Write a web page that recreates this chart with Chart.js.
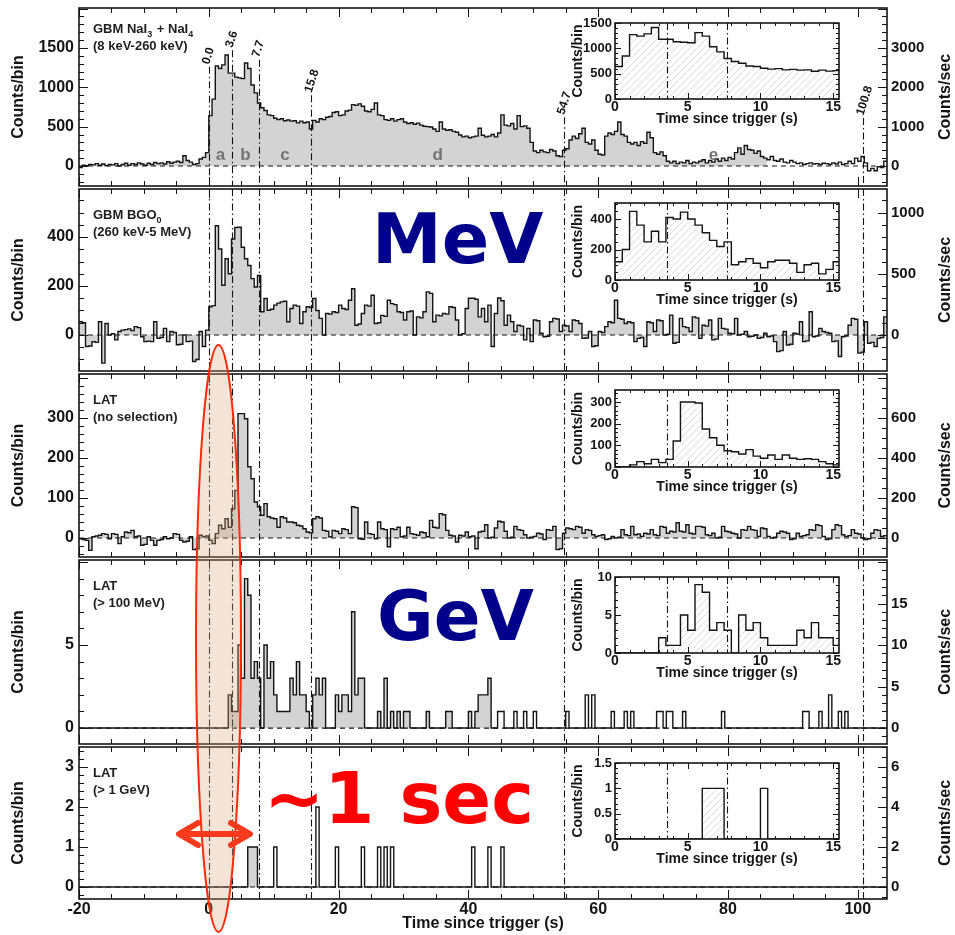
<!DOCTYPE html>
<html>
<head>
<meta charset="utf-8">
<script src="https://cdn.jsdelivr.net/npm/chart.js@4.4.1/dist/chart.umd.min.js"></script>
<style>
  html, body { margin: 0; padding: 0; background: #fff; }
  #page { position: relative; width: 955px; height: 935px; overflow: hidden; background: #fff; }
  #page canvas { position: absolute; }
  #overlay { position: absolute; left: 0; top: 0; pointer-events: none; }
</style>
</head>
<body>
<div id="page">
  <svg id="overlay" width="955" height="935" xmlns="http://www.w3.org/2000/svg">
    <ellipse cx="218.5" cy="638.5" rx="22.5" ry="293.5" fill="rgba(220,170,130,0.32)" stroke="#ff2a0a" stroke-width="2"/>
    <text x="372" y="263" font-family="DejaVu Sans" font-weight="bold" font-size="70" fill="#00008b">MeV</text>
    <text x="377" y="640" font-family="DejaVu Sans" font-weight="bold" font-size="69" fill="#00008b">GeV</text>
    <text x="264" y="823" font-family="DejaVu Sans" font-weight="bold" font-size="72" fill="#ff0000">~1 sec</text>
    <g stroke="#ff3a1c" stroke-width="6" fill="none" stroke-linecap="round" stroke-linejoin="round">
      <line x1="181" y1="834" x2="248" y2="834"/>
      <polyline points="198,823 179,834 198,845"/>
      <polyline points="231,823 250,834 231,845"/>
    </g>
  </svg>
</div>
<script>
// ---- histogram binning (main panels) ----
const binStart = -20;
const binWidth = 0.5;
const xMin = -20;
const xMax = 104.5;
const xTicksMain = [-20, 0, 20, 40, 60, 80, 100];

// interval boundaries (s) and their labels
const markerTimes = [0, 3.6, 7.7, 15.8, 54.7, 100.8];
const markerLabels = ['0.0', '3.6', '7.7', '15.8', '54.7', '100.8'];
const intervalLetters = ['a', 'b', 'c', 'd', 'e'];

// GBM NaI3 + NaI4 (8 keV-260 keV), counts/bin
const naiCounts = [
  -20, 10, 5, 20, 15, 30, 10, 25, 5, 20,
  15, 30, 0, 20, 35, 10, 30, 20, 40, 25,
  10, 35, 20, 45, 30, 40, 25, 55, 35, 50,
  60, 45, 130, 70, 50, 20, 30, 90, 110, 170,
  640, 850, 1270, 1240, 1285, 1410, 1180, 1180, 1130, 1120,
  1110, 1310, 1240, 1030, 930, 800, 740, 705, 650, 640,
  607, 590, 600, 575, 585, 570, 575, 548, 570, 550,
  560, 470, 580, 560, 600, 590, 620, 630, 680, 690,
  640, 650, 700, 710, 780, 770, 790, 760, 700, 690,
  720, 800, 650, 640, 590, 580, 600, 570, 590, 600,
  560, 540, 550, 530, 545, 520, 505, 500, 495, 470,
  440, 560, 470, 455, 460, 440, 430, 395, 370, 380,
  360, 370, 380, 480, 390, 370, 380, 400, 370, 420,
  650, 520, 510, 540, 470, 640, 500, 510, 480, 300,
  190, 170, 200, 180, 170, 210, 190, 130, 120, 200,
  220, 330, 380, 350, 410, 480, 300, 280, 330, 200,
  150, 140, 380, 420, 400, 440, 560, 400, 380, 300,
  280, 300, 260, 310, 290, 430, 360, 170, 150, 180,
  130, 60, 40, 60, 30, 50, 40, 70, 30, 50,
  40, 60, 80, 40, 70, 50, 90, 60, 100, 70,
  110, 90, 170, 230, 150, 260, 210, 200, 160, 190,
  120, 100, 80, 120, 70, 60, 90, 50, 40, 70,
  50, 30, 40, 20, 30, 40, 25, 30, 20, 35,
  30, 20, 40, 25, 50, 20, 30, 60, 30, 100,
  60, 120, 40, -60, -30, -60, -10, -20, 60
];

// GBM BGO0 (260 keV-5 MeV)
const bgoCounts = [
  54, 50, -47, -45, -27, -30, 54, -115, 47, 0,
  5, -20, 14, 20, 22, 25, 18, 34, 30, -7,
  -27, -25, -27, 54, -14, -10, 27, -27, 14, 10,
  -40, -38, 0, -27, -25, -108, -100, 14, -47, 20,
  115, 120, 446, 351, 203, 311, 250, 392, 439, 440,
  358, 311, 284, 230, 196, 243, 95, 149, 101, 105,
  122, 130, 135, 138, 54, 108, 122, 118, 47, 95,
  115, 112, 149, 100, 68, 0, 88, 85, 95, 92,
  122, 108, 104, 142, 189, 40, 45, 88, 122, 118,
  162, 47, 50, 80, 76, 142, 128, 124, 95, 92,
  61, 95, 98, 0, 74, 70, 95, 176, 170, 54,
  81, 78, 88, 85, 115, 112, 61, 0, 5, 108,
  150, 150, 146, 74, 108, 54, 122, -47, 88, 151,
  140, 40, 81, 54, 14, 40, 36, -20, 27, -27,
  61, 58, 7, -7, -5, 54, 68, 65, 14, 40,
  37, 14, 61, 58, 47, -14, -12, 14, -47, -44,
  14, 10, 34, 54, 50, 142, 68, 64, 47, 54,
  50, -27, -14, -10, -47, 54, 50, 14, 61, 58,
  0, 3, 81, -34, -30, 68, 34, 30, 14, 74,
  70, -14, 40, 36, 61, -20, -17, 68, 27, 24,
  7, 5, 68, 0, 3, 14, -7, -5, 0, -14,
  -10, 7, -7, -4, -27, -68, -64, 14, -41, -38,
  7, 4, 54, -27, -24, 95, -7, -4, 27, 14,
  10, 7, -27, -24, -88, -7, -4, 40, 68, 64,
  -74, -70, 54, -34, -30, -47, -14, -10, 74
];

// LAT (no selection)
const latAllCounts = [
  -2, -4, -6, -31, 3, 5, 7, 11, 9, -2,
  11, 9, -14, 3, 15, 13, 19, 3, 5, -18,
  -16, 3, -6, -18, -6, -4, 3, -2, 0, 11,
  9, -6, -10, -8, 3, -29, -27, 7, 3, 5,
  -6, -14, 11, 32, 23, 48, 27, 73, 119, 311,
  311, 298, 178, 148, 90, 78, 57, 86, 53, 50,
  48, 27, 53, 50, 40, 40, 38, 32, 30, 23,
  15, 13, 48, 53, 50, 19, 17, 3, 19, 17,
  11, 23, 21, 11, 78, 76, -2, -3, 40, 11,
  9, -2, 40, 23, 21, -22, 23, 21, 27, 3,
  5, 27, 11, 9, 7, 15, 13, 3, 44, 27,
  25, 61, 58, 19, 7, 5, -10, 7, 5, 15,
  3, 5, -27, 15, 17, 33, 0, 2, 25, 42,
  40, 17, 0, 2, 29, 21, 19, 8, 0, 2,
  4, 12, 10, -4, 21, 19, 29, -29, -27, 12,
  25, 23, 21, 29, 27, 12, 21, 19, 8, 4,
  6, 8, -4, -2, 4, 0, 2, 21, 8, 6,
  29, 8, 10, 4, 12, 10, 21, 8, 6, 29,
  27, 12, 17, 15, 38, 17, 15, 33, 12, 10,
  29, 29, 27, 8, 6, 12, 0, 2, 29, 17,
  15, 12, 10, 0, 21, 19, 29, 21, 19, 4,
  25, 23, 4, 0, 2, 12, 17, 15, 12, -4,
  -2, 12, 4, 6, 8, 21, 19, 33, 31, 4,
  -4, -2, 21, 33, 31, 8, 4, 6, 21, 12,
  10, 0, -4, -2, 12, 21, 19, 4, 6
];

// LAT (> 100 MeV)
const lat100Counts = [
  0, 0, 0, 0, 0, 0, 0, 0, 0, 0,
  0, 0, 0, 0, 0, 0, 0, 0, 0, 0,
  0, 0, 0, 0, 0, 0, 0, 0, 0, 0,
  0, 0, 0, 0, 0, 0, 0, 0, 0, 0,
  0, 0, 0, 0, 0, 0, 2, 1, 1, 5,
  3, 9, 8, 3, 4, 3, 0, 5, 3, 4,
  2, 1, 1, 1, 1, 3, 2, 4, 2, 2,
  1, 0, 2, 3, 2, 3, 0, 0, 0, 2,
  1, 2, 2, 1, 7, 2, 3, 3, 0, 0,
  0, 0, 1, 0, 3, 0, 1, 0, 1, 0,
  1, 1, 0, 0, 0, 0, 0, 1, 0, 0,
  0, 0, 0, 1, 1, 0, 0, 0, 0, 0,
  1, 0, 1, 2, 2, 2, 3, 0, 0, 1,
  1, 0, 0, 0, 1, 0, 0, 1, 0, 0,
  1, 0, 0, 0, 0, 0, 0, 0, 0, 0,
  1, 0, 0, 0, 0, 0, 2, 0, 2, 0,
  0, 0, 0, 0, 1, 0, 0, 0, 1, 0,
  1, 0, 0, 0, 0, 0, 0, 0, 1, 1,
  0, 1, 1, 0, 0, 0, 1, 0, 0, 0,
  0, 0, 0, 0, 0, 0, 0, 0, 1, 0,
  0, 0, 0, 0, 0, 0, 0, 0, 0, 0,
  0, 0, 0, 0, 0, 0, 0, 0, 0, 0,
  0, 0, 0, 1, 1, 0, 0, 0, 1, 0,
  0, 2, 0, 0, 1, 0, 1, 0, 0, 0,
  0, 0, 0, 0, 0, 0, 0, 0, 0
];

// LAT (> 1 GeV)
const lat1GevCounts = [
  0, 0, 0, 0, 0, 0, 0, 0, 0, 0,
  0, 0, 0, 0, 0, 0, 0, 0, 0, 0,
  0, 0, 0, 0, 0, 0, 0, 0, 0, 0,
  0, 0, 0, 0, 0, 0, 0, 0, 0, 0,
  0, 0, 0, 0, 0, 0, 0, 0, 0, 0,
  0, 0, 1, 1, 1, 0, 0, 0, 0, 0,
  1, 0, 0, 0, 0, 0, 0, 0, 0, 0,
  0, 0, 0, 2, 0, 0, 0, 0, 0, 1,
  0, 0, 0, 0, 0, 0, 0, 1, 0, 0,
  0, 0, 1, 0, 1, 0, 1, 0, 0, 0,
  0, 0, 0, 0, 0, 0, 0, 0, 0, 0,
  0, 0, 0, 0, 0, 0, 0, 0, 0, 0,
  0, 1, 0, 0, 0, 0, 1, 0, 0, 0,
  1, 0, 0, 0, 0, 0, 0, 0, 0, 0,
  0, 0, 0, 0, 0, 0, 0, 0, 0, 0,
  0, 0, 0, 0, 0, 0, 0, 0, 0, 0,
  0, 0, 0, 0, 0, 0, 0, 0, 0, 0,
  0, 0, 0, 0, 0, 0, 0, 0, 0, 0,
  0, 0, 0, 0, 0, 0, 0, 0, 0, 0,
  0, 0, 0, 0, 0, 0, 0, 0, 0, 0,
  0, 0, 0, 0, 0, 0, 0, 0, 0, 0,
  0, 0, 0, 0, 0, 0, 0, 0, 0, 0,
  0, 0, 0, 0, 0, 0, 0, 0, 0, 0,
  0, 0, 0, 0, 0, 0, 0, 0, 0, 0,
  0, 0, 0, 0, 0, 0, 0, 0, 0
];

// ---- insets: first 15.5 s ----
const insetStart = 0;
const insetBinWidth = 0.5;
const insetXMax = 15.4;
const insetXTicks = [0, 5, 10, 15];
const naiZoom = [640, 850, 1270, 1240, 1285, 1410, 1180, 1180, 1130, 1120, 1110, 1310, 1240, 1030, 930, 800,
  740, 705, 650, 640, 607, 590, 600, 575, 585, 570, 575, 548, 570, 550, 560];
const bgoZoom = [120, 200, 450, 360, 250, 320, 250, 410, 400, 445, 400, 360, 310, 260, 220, 250,
  100, 120, 140, 110, 80, 120, 130, 130, 110, 50, 100, 110, 40, 70, 120];
const latAllZoom = [0, 0, 10, 25, 15, 35, 20, 35, 120, 300, 300, 295, 175, 135, 100, 75,
  70, 60, 80, 50, 40, 55, 35, 55, 40, 35, 38, 35, 25, 15, 10];
const lat100Zoom = [0, 0, 0, 0, 0, 0, 2, 1, 1, 5, 3, 9, 8, 3, 4, 3,
  0, 5, 3, 4, 2, 1, 1, 1, 1, 3, 2, 4, 2, 2, 1];
const lat1GevZoom = [0, 0, 0, 0, 0, 0, 0, 0, 0, 0, 0, 0, 1, 1, 1, 0,
  0, 0, 0, 0, 1, 0, 0, 0, 0, 0, 0, 0, 0, 0, 0];

// ---- axis ticks ----
const naiTicks = [0, 500, 1000, 1500];
const naiRateTicks = [0, 1000, 2000, 3000];
const bgoTicks = [0, 200, 400];
const bgoRateTicks = [0, 500, 1000];
const latAllTicks = [0, 100, 200, 300];
const latAllRateTicks = [0, 200, 400, 600];
const lat100Ticks = [0, 5];
const lat100RateTicks = [0, 5, 10, 15];
const lat1GevTicks = [0, 1, 2, 3];
const lat1GevRateTicks = [0, 2, 4, 6];
const naiZoomTicks = [0, 500, 1000, 1500];
const bgoZoomTicks = [0, 200, 400];
const latAllZoomTicks = [0, 100, 200, 300];
const lat100ZoomTicks = [0, 5, 10];
const lat1GevZoomTicks = [0, 0.5, 1, 1.5];

const panelNames = [
  [[['GBM NaI', 0], ['3', 1], [' + NaI', 0], ['4', 1]], [['(8 keV-260 keV)', 0]]],
  [[['GBM BGO', 0], ['0', 1]], [['(260 keV-5 MeV)', 0]]],
  [[['LAT', 0]], [['(no selection)', 0]]],
  [[['LAT', 0]], [['(> 100 MeV)', 0]]],
  [[['LAT', 0]], [['(> 1 GeV)', 0]]]
];

// ---------------------------------------------------------------
const FONT = '"Liberation Sans", Arial, Helvetica, sans-serif';
const INK = '#141414';
const page = document.getElementById('page');
const overlay = document.getElementById('overlay');

function histPoints(counts, start, width, from, to) {
  const pts = [];
  counts.forEach((c, i) => {
    const x0 = start + i * width;
    if (x0 >= from - 1e-9 && x0 < to - 1e-9) pts.push({ x: x0, y: c });
  });
  if (pts.length) {
    const last = pts[pts.length - 1];
    pts.push({ x: Math.min(last.x + width, to), y: last.y });
  }
  return pts;
}

function tickValues(min, max, step) {
  const out = [];
  for (let k = Math.ceil(min / step - 1e-9); k * step <= max + 1e-9; k++) out.push(k * step);
  return out;
}
const isMajor = (v, major) => Math.abs(v / major - Math.round(v / major)) < 1e-6;

function hatchPattern() {
  const c = document.createElement('canvas');
  c.width = 7; c.height = 7;
  const g = c.getContext('2d');
  g.strokeStyle = 'rgba(0,0,0,0.13)';
  g.lineWidth = 1;
  g.beginPath();
  g.moveTo(-1, 8); g.lineTo(8, -1);
  g.stroke();
  return g.createPattern(c, 'repeat');
}

function drawSegments(ctx, segs, x, y, size) {
  segs.forEach(([txt, sub]) => {
    ctx.font = `bold ${sub ? size - 4 : size}px ${FONT}`;
    ctx.fillText(txt, x, sub ? y + 4 : y);
    x += ctx.measureText(txt).width + (sub ? 1 : 0);
  });
}

const panelDecor = {
  id: 'panelDecor',
  beforeDatasetsDraw(chart, args, o) {
    if (!o.whiteArea) return;
    const { ctx, chartArea: a } = chart;
    ctx.save();
    ctx.fillStyle = '#fff';
    ctx.fillRect(a.left, a.top, a.right - a.left, a.bottom - a.top);
    ctx.restore();
  },
  afterDatasetsDraw(chart, args, o) {
    const { ctx, chartArea: a, scales: { x, y } } = chart;
    ctx.save();
    ctx.strokeStyle = INK;
    ctx.lineWidth = 1.1;
    ctx.setLineDash([7, 3, 1.5, 3]);
    o.markers.forEach((t, k) => {
      if (t <= x.min || t >= x.max) return;
      const px = Math.round(x.getPixelForValue(t)) + 0.5;
      const y0 = o.markerStart ? y.getPixelForValue(o.markerStart[k]) : a.top;
      ctx.beginPath();
      ctx.moveTo(px, y0);
      ctx.lineTo(px, a.bottom);
      ctx.stroke();
    });
    ctx.setLineDash([]);
    ctx.fillStyle = INK;
    if (o.markerLabels) {
      ctx.font = `bold 12px ${FONT}`;
      ctx.textAlign = 'left';
      ctx.textBaseline = 'middle';
      o.markerLabels.forEach((lbl, k) => {
        const px = x.getPixelForValue(o.markers[k]);
        const py = y.getPixelForValue(o.markerStart[k]);
        ctx.save();
        ctx.translate(px - 3, py - 3);
        ctx.rotate(-72 * Math.PI / 180);
        ctx.fillText(lbl, 0, 0);
        ctx.restore();
      });
    }
    if (o.letters) {
      ctx.font = `bold 17px ${FONT}`;
      ctx.fillStyle = '#737373';
      ctx.textAlign = 'center';
      ctx.textBaseline = 'middle';
      o.letters.forEach((l, k) => {
        const mid = (o.markers[k] + o.markers[k + 1]) / 2;
        ctx.fillText(l, x.getPixelForValue(mid), y.getPixelForValue(o.letterY));
      });
    }
    ctx.restore();
  },
  afterDraw(chart, args, o) {
    const { ctx, chartArea: a, scales } = chart;
    const { x, y, y2 } = scales;
    ctx.save();
    ctx.strokeStyle = INK;
    ctx.lineWidth = 1;
    ctx.beginPath();
    tickValues(x.min, x.max, o.xMinor).forEach(v => {
      const px = Math.round(x.getPixelForValue(v)) + 0.5;
      const len = isMajor(v, o.xMajor) ? o.majorLen : o.minorLen;
      ctx.moveTo(px, a.top); ctx.lineTo(px, a.top + len);
      ctx.moveTo(px, a.bottom); ctx.lineTo(px, a.bottom - len);
    });
    tickValues(y.min, y.max, o.yMinor).forEach(v => {
      const py = Math.round(y.getPixelForValue(v)) + 0.5;
      const len = isMajor(v, o.yMajor) ? o.majorLen : o.minorLen;
      ctx.moveTo(a.left, py); ctx.lineTo(a.left + len, py);
      if (!y2) { ctx.moveTo(a.right, py); ctx.lineTo(a.right - len, py); }
    });
    if (y2) {
      tickValues(y2.min, y2.max, o.y2Minor).forEach(v => {
        const py = Math.round(y2.getPixelForValue(v)) + 0.5;
        const len = isMajor(v, o.y2Major) ? o.majorLen : o.minorLen;
        ctx.moveTo(a.right, py); ctx.lineTo(a.right - len, py);
      });
    }
    ctx.stroke();
    ctx.lineWidth = 1.6;
    ctx.strokeRect(a.left, a.top, a.right - a.left, a.bottom - a.top);

    ctx.fillStyle = INK;
    ctx.textAlign = 'center';
    ctx.textBaseline = 'middle';
    const cy = (a.top + a.bottom) / 2;
    ctx.font = `bold ${o.titleSize}px ${FONT}`;
    if (o.yTitle) {
      ctx.save(); ctx.translate(a.left + o.yTitleDx, cy); ctx.rotate(-Math.PI / 2);
      ctx.fillText(o.yTitle, 0, 0); ctx.restore();
    }
    if (o.y2Title) {
      ctx.save(); ctx.translate(a.right + o.y2TitleDx, cy); ctx.rotate(-Math.PI / 2);
      ctx.fillText(o.y2Title, 0, 0); ctx.restore();
    }
    if (o.xTitle) {
      ctx.font = `bold ${o.xTitleSize}px ${FONT}`;
      ctx.fillText(o.xTitle, (a.left + a.right) / 2, a.bottom + o.xTitleDy);
    }
    if (o.name) {
      ctx.textAlign = 'left';
      ctx.textBaseline = 'alphabetic';
      ctx.fillStyle = '#1e1e1e';
      o.name.forEach((line, k) => drawSegments(ctx, line, a.left + 14, a.top + o.nameBase[k], 13));
    }
    ctx.restore();
  }
};

const tickFont = (size) => ({ family: FONT, size, weight: 'bold' });

// ---- main panels ----
const panelRects = [[8, 186], [189, 371], [374, 557], [560, 744], [747, 899]];
const mainPanels = [
  { counts: naiCounts, range: [-254, 2008], ticks: naiTicks, rateTicks: naiRateTicks, yMinor: 100, yMajor: 500, y2Minor: 200, y2Major: 1000, fill: [-20, 86] },
  { counts: bgoCounts, range: [-147, 596], ticks: bgoTicks, rateTicks: bgoRateTicks, yMinor: 50, yMajor: 200, y2Minor: 100, y2Major: 500, fill: [-20, 104.5] },
  { counts: latAllCounts, range: [-47.5, 410], ticks: latAllTicks, rateTicks: latAllRateTicks, yMinor: 20, yMajor: 100, y2Minor: 50, y2Major: 200, fill: [-20, 104.5] },
  { counts: lat100Counts, range: [-0.96, 10.12], ticks: lat100Ticks, rateTicks: lat100RateTicks, yMinor: 1, yMajor: 5, y2Minor: 1, y2Major: 5, fill: [-20, 44] },
  { counts: lat1GevCounts, range: [-0.3, 3.5], ticks: lat1GevTicks, rateTicks: lat1GevRateTicks, yMinor: 0.2, yMajor: 1, y2Minor: 0.5, y2Major: 2, fill: [0, 7.7] }
];

mainPanels.forEach((p, idx) => {
  const [top, bottom] = panelRects[idx];
  const isLast = idx === panelRects.length - 1;
  const cTop = top - 10;
  const cH = isLast ? 935 - cTop : (bottom - top) + 20;
  const cv = document.createElement('canvas');
  cv.width = 955; cv.height = cH;
  cv.style.left = '0px'; cv.style.top = cTop + 'px';
  page.insertBefore(cv, overlay);

  const decor = {
    markers: markerTimes, xMinor: 5, xMajor: 20, majorLen: 9, minorLen: 5,
    yMinor: p.yMinor, yMajor: p.yMajor, y2Minor: p.y2Minor, y2Major: p.y2Major,
    yTitle: 'Counts/bin', yTitleDx: -60.5, y2Title: 'Counts/sec', y2TitleDx: 59, titleSize: 16,
    name: panelNames[idx], nameBase: idx === 0 ? [25, 42] : [30, 47]
  };
  if (idx === 0) {
    decor.markerStart = [1260, 1470, 1350, 900, 620, 610];
    decor.markerLabels = markerLabels;
    decor.letters = intervalLetters;
    decor.letterY = 140;
  }
  if (isLast) { decor.xTitle = 'Time since trigger (s)'; decor.xTitleDy = 25; decor.xTitleSize = 16; }

  new Chart(cv, {
    type: 'line',
    data: {
      datasets: [
        { data: histPoints(p.counts, binStart, binWidth, -Infinity, Infinity), stepped: true, borderColor: INK, borderWidth: 1.4, pointRadius: 0, fill: false, order: 0 },
        { data: [{ x: xMin, y: 0 }, { x: xMax, y: 0 }], borderColor: INK, borderWidth: 1.2, borderDash: [5, 4], pointRadius: 0, fill: false, order: 1 },
        { data: histPoints(p.counts, binStart, binWidth, p.fill[0], p.fill[1]), stepped: true, borderWidth: 0, borderColor: 'rgba(0,0,0,0)', backgroundColor: '#d3d3d3', fill: 'origin', pointRadius: 0, order: 2 }
      ]
    },
    options: {
      responsive: false, devicePixelRatio: 1, animation: false, events: [],
      layout: { padding: { top: 10, bottom: isLast ? 0 : 10, left: 0, right: 0 } },
      plugins: { legend: { display: false }, tooltip: { enabled: false }, panelDecor: decor },
      scales: {
        x: {
          type: 'linear', min: xMin, max: xMax, display: isLast,
          grid: { display: false, drawTicks: false }, border: { display: false },
          ticks: { font: tickFont(16), color: INK, padding: 1, maxRotation: 0, autoSkip: false, callback: v => String(v) },
          afterBuildTicks: s => { s.ticks = xTicksMain.map(v => ({ value: v })); },
          afterFit: s => { s.height = isLast ? 36 : 0; s.paddingLeft = 0; s.paddingRight = 0; }
        },
        y: {
          position: 'left', min: p.range[0], max: p.range[1],
          grid: { display: false, drawTicks: false }, border: { display: false },
          ticks: { font: tickFont(16), color: INK, padding: 5, callback: v => String(v) },
          afterBuildTicks: s => { s.ticks = p.ticks.map(v => ({ value: v })); },
          afterFit: s => { s.width = 79; s.paddingTop = 0; s.paddingBottom = 0; }
        },
        y2: {
          position: 'right', min: p.range[0] * 2, max: p.range[1] * 2,
          grid: { display: false, drawTicks: false }, border: { display: false },
          ticks: { font: tickFont(15), color: INK, padding: 4, callback: v => String(v) },
          afterBuildTicks: s => { s.ticks = p.rateTicks.map(v => ({ value: v })); },
          afterFit: s => { s.width = 68; s.paddingTop = 0; s.paddingBottom = 0; }
        }
      }
    },
    plugins: [panelDecor]
  });
});

// ---- insets ----
const insetRects = [[615, 23, 839, 99], [615, 203, 839, 280], [615, 390, 839, 467], [615, 577, 839, 653], [615, 763, 839, 839]];
const insets = [
  { counts: naiZoom, max: 1500, ticks: naiZoomTicks, minor: 100, major: 500, fill: [0, 15.5] },
  { counts: bgoZoom, max: 505, ticks: bgoZoomTicks, minor: 50, major: 200, fill: [0, 15.5] },
  { counts: latAllZoom, max: 355, ticks: latAllZoomTicks, minor: 20, major: 100, fill: [0, 15.5] },
  { counts: lat100Zoom, max: 10, ticks: lat100ZoomTicks, minor: 1, major: 5, fill: [0, 15.5] },
  { counts: lat1GevZoom, max: 1.5, ticks: lat1GevZoomTicks, minor: 0.1, major: 0.5, fill: [0, 7.7] }
];
const hatch = hatchPattern();

insets.forEach((p, idx) => {
  const [l, t, r, b] = insetRects[idx];
  const cLeft = 555, cRight = 850;
  const cv = document.createElement('canvas');
  cv.width = cRight - cLeft;
  cv.height = (b - t) + 8 + 32;
  cv.style.left = cLeft + 'px'; cv.style.top = (t - 8) + 'px';
  page.insertBefore(cv, overlay);

  new Chart(cv, {
    type: 'line',
    data: {
      datasets: [
        { data: histPoints(p.counts, insetStart, insetBinWidth, -Infinity, Infinity), stepped: true, borderColor: INK, borderWidth: 1.4, pointRadius: 0, fill: false, order: 0 },
        { data: histPoints(p.counts, insetStart, insetBinWidth, p.fill[0], p.fill[1]), stepped: true, borderWidth: 0, borderColor: 'rgba(0,0,0,0)', backgroundColor: hatch, fill: 'origin', pointRadius: 0, order: 1 }
      ]
    },
    options: {
      responsive: false, devicePixelRatio: 1, animation: false, events: [],
      layout: { padding: { top: 8, bottom: 0, left: 0, right: cRight - r } },
      plugins: {
        legend: { display: false }, tooltip: { enabled: false },
        panelDecor: {
          whiteArea: true, markers: markerTimes, xMinor: 1, xMajor: 5, majorLen: 6, minorLen: 3,
          yMinor: p.minor, yMajor: p.major,
          yTitle: 'Counts/bin', yTitleDx: -37, titleSize: 14,
          xTitle: 'Time since trigger (s)', xTitleDy: 20, xTitleSize: 14
        }
      },
      scales: {
        x: {
          type: 'linear', min: insetStart, max: insetXMax,
          grid: { display: false, drawTicks: false }, border: { display: false },
          ticks: { font: tickFont(14), color: INK, padding: 0, maxRotation: 0, autoSkip: false, callback: v => String(v) },
          afterBuildTicks: s => { s.ticks = insetXTicks.map(v => ({ value: v })); },
          afterFit: s => { s.height = 32; s.paddingLeft = 0; s.paddingRight = 0; }
        },
        y: {
          position: 'left', min: 0, max: p.max,
          grid: { display: false, drawTicks: false }, border: { display: false },
          ticks: { font: tickFont(13), color: INK, padding: 3, callback: v => String(v) },
          afterBuildTicks: s => { s.ticks = p.ticks.map(v => ({ value: v })); },
          afterFit: s => { s.width = l - cLeft; s.paddingTop = 0; s.paddingBottom = 0; }
        }
      }
    },
    plugins: [panelDecor]
  });
});
</script>
</body>
</html>
